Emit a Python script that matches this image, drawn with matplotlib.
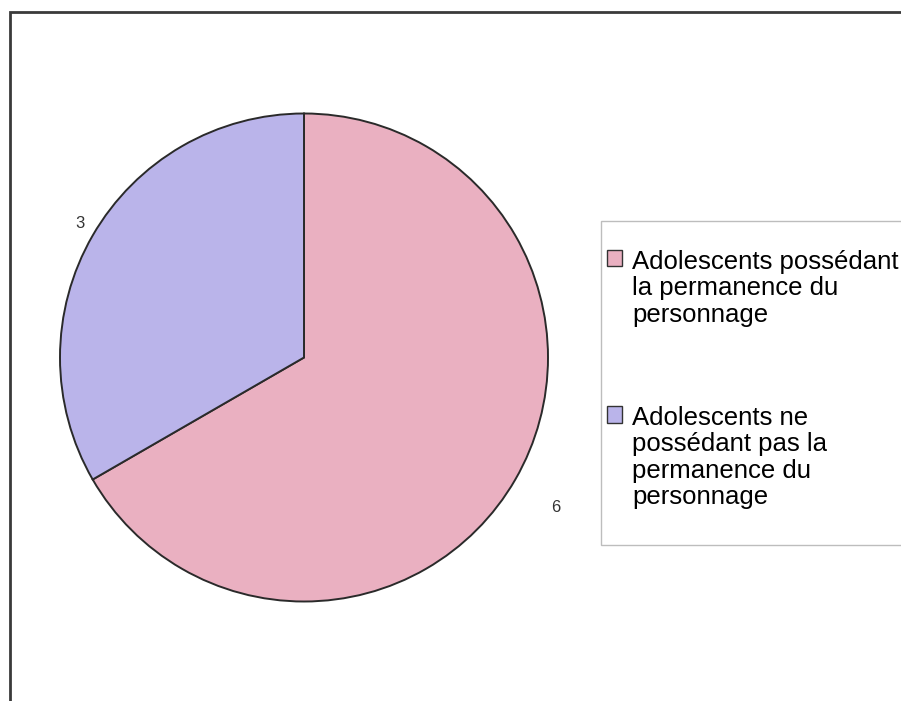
import numpy as np
import matplotlib
matplotlib.use("Agg")
import matplotlib.pyplot as plt
from matplotlib.patches import Rectangle

# data
categories = ["Adolescents possédant\nla permanence du\npersonnage",
              "Adolescents ne\npossédant pas la\npermanence du\npersonnage"]
values = [6, 3]
slice_colors = ["#EAB0C1", "#BAB4EA"]
label_dist = [1.17, 1.04]

plt.rcParams['font.family'] = ['Liberation Sans', 'DejaVu Sans']

fig = plt.figure(figsize=(9.01, 7.01), dpi=100)
fig.patch.set_facecolor("white")

# chart frame (cut off on the right and bottom in the original)
fig.add_artist(Rectangle((10 / 901, -0.1), 1.2, 1 - 12 / 701 + 0.1,
                         transform=fig.transFigure, fill=False,
                         edgecolor="#3a3a3a", linewidth=2))

ax = fig.add_axes([60 / 901, 99 / 701, 488 / 901, 489 / 701])
wedges, _ = ax.pie(values, colors=slice_colors, startangle=90, counterclock=False,
                   wedgeprops=dict(edgecolor="#2a2a2a", linewidth=1.4))
ax.set_xlim(-1, 1)
ax.set_ylim(-1, 1)

# value labels outside each slice, box corner touching the slice direction
for w, v, d in zip(wedges, values, label_dist):
    mid = np.deg2rad((w.theta1 + w.theta2) / 2)
    x, y = d * np.cos(mid), d * np.sin(mid)
    ax.text(x, y, str(v), ha="left" if x > 0 else "right",
            va="top" if y < 0 else "bottom", fontsize=12, color="#333333")

# legend box, also running past the right edge
fig.add_artist(Rectangle((601 / 901, 1 - 545 / 701), 0.5, 324 / 701,
                         transform=fig.transFigure, facecolor="white",
                         edgecolor="#bdbdbd", linewidth=1))
leg = fig.legend(wedges, categories, loc="upper left",
                 bbox_to_anchor=(607 / 901, 1 - 250 / 701),
                 fontsize=18.5, frameon=False,
                 handlelength=0.6, handleheight=0.6,
                 handletextpad=0.39, labelspacing=3.1, borderpad=0,
                 borderaxespad=0)
for h in leg.legend_handles:
    h.set_edgecolor("#333333")
    h.set_linewidth(1)
for t in leg.get_texts():
    t.set_linespacing(1.12)
# markers sit on the first line of each entry, like the original
for col in leg._legend_handle_box.get_children():
    for item in col.get_children():
        item.align = "top"

fig.savefig("out.png", dpi=100)
